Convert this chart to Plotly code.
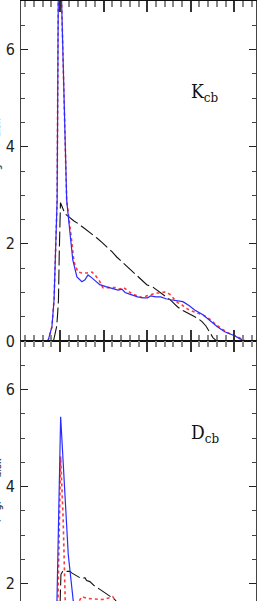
import plotly.graph_objects as go

# ---------------- data (top panel: K_cb) ----------------
k_blue_x = [-0.28, -0.19, -0.14, -0.10, -0.07, -0.03, 0.034, 0.15, 0.225, 0.29, 0.385, 0.50, 0.57, 0.64,
            0.73, 0.91, 1.05, 1.21, 1.33, 1.42, 1.49, 1.58, 1.78, 1.92, 2.01, 2.08, 2.20, 2.31, 2.43,
            2.54, 2.68, 2.82, 2.96, 3.09, 3.28, 3.46, 3.62, 3.78, 3.89, 4.01, 4.12, 4.23, 4.28]
k_blue_y = [0.0, 0.29, 0.85, 1.9, 2.9, 9.2, 7.0, 2.9, 2.23, 1.67, 1.32, 1.22, 1.26, 1.36,
            1.30, 1.16, 1.12, 1.08, 1.05, 1.07, 1.00, 0.97, 0.91, 0.89, 0.89, 0.93, 0.91, 0.91, 0.87,
            0.85, 0.83, 0.81, 0.73, 0.64, 0.54, 0.40, 0.29, 0.19, 0.15, 0.11, 0.05, 0.02, 0.0]

k_red_x = [-0.28, -0.19, -0.14, -0.10, -0.07, -0.03, 0.034, 0.149, 0.248, 0.317, 0.408, 0.50, 0.615, 0.73,
           0.80, 0.89, 0.98, 1.12, 1.26, 1.37, 1.46, 1.62, 1.76, 1.90, 1.99, 2.08, 2.19, 2.29, 2.40,
           2.47, 2.54, 2.63, 2.70, 2.79, 2.88, 3.02, 3.16, 3.27, 3.39, 3.48, 3.57, 3.71, 3.85, 3.96,
           4.08, 4.20]
k_red_y = [0.0, 0.29, 0.85, 1.9, 2.9, 9.2, 7.0, 2.9, 2.19, 1.63, 1.42, 1.40, 1.40, 1.42,
           1.36, 1.26, 1.10, 1.10, 1.10, 1.07, 1.10, 0.99, 0.93, 0.89, 0.93, 0.95, 0.99, 0.99, 1.01,
           0.99, 0.95, 0.85, 0.79, 0.75, 0.68, 0.62, 0.58, 0.54, 0.48, 0.42, 0.34, 0.25, 0.17, 0.13,
           0.09, 0.02]

k_black_x = [-0.154, -0.119, -0.08, -0.057, -0.039, -0.021, -0.005, 0.007, 0.11, 0.225, 0.317, 0.41,
             0.50, 0.615, 0.73, 0.844, 0.96, 1.07, 1.19, 1.30, 1.42, 1.55, 1.64, 1.74, 1.85, 1.99,
             2.13, 2.22, 2.31, 2.43, 2.54, 2.63, 2.70, 2.82, 2.93, 3.05, 3.16, 3.26, 3.35, 3.44,
             3.51, 3.57, 3.62]
k_black_y = [0.0, 0.13, 0.30, 0.58, 0.85, 1.8, 2.8, 2.85, 2.62, 2.53, 2.47, 2.42,
             2.36, 2.28, 2.20, 2.12, 2.03, 1.94, 1.84, 1.73, 1.63, 1.53, 1.44, 1.36, 1.26, 1.16,
             1.11, 1.05, 0.99, 0.92, 0.84, 0.76, 0.70, 0.63, 0.57, 0.52, 0.47, 0.40, 0.31, 0.16,
             0.07, 0.02, 0.0]

# ---------------- data (bottom panel: D_cb) ----------------
d_blue_x = [-0.30, -0.20, -0.12, -0.073, 0.011, 0.186, 0.30, 0.40, 0.55, 0.75, 1.0, 1.5, 2.0, 2.5,
            3.0, 3.5, 4.0, 4.3]
d_blue_y = [0.0, 0.40, 1.0, 1.67, 5.44, 2.6, 1.65, 1.35, 1.25, 1.2, 1.1, 1.0, 0.9, 0.85,
            0.7, 0.4, 0.1, 0.0]

d_red_x = [-0.30, -0.20, -0.10, -0.05, 0.011, 0.07, 0.10, 0.12, 0.30, 0.50, 0.64, 0.98, 1.14, 1.21,
           1.30, 1.6, 2.0, 2.5, 3.0, 3.5, 4.0, 4.2]
d_red_y = [0.0, 0.35, 1.0, 1.67, 4.62, 3.3, 2.2, 1.5, 1.45, 1.73, 1.69, 1.67, 1.71, 1.73,
           1.6, 1.3, 1.05, 0.95, 0.75, 0.4, 0.1, 0.0]

d_black_x = [-0.05, -0.02, -0.005, 0.018, 0.057, 0.11, 0.156, 0.225, 0.264, 0.408, 0.493, 0.569,
             0.608, 0.683, 0.798, 0.913, 0.98, 1.096, 1.18, 1.257, 1.4, 2.0, 2.5, 3.0, 3.3, 3.5, 3.6]
d_black_y = [0.0, 0.5, 1.5, 2.19, 2.25, 2.27, 2.25, 2.25, 2.22, 2.15, 2.10, 2.12,
             2.06, 2.04, 1.94, 1.88, 1.84, 1.77, 1.71, 1.67, 1.5, 1.2, 0.9, 0.55, 0.3, 0.1, 0.0]

x_major_ticks = [0, 1, 2, 3, 4]
x_minor_ticks = [-0.8, -0.6, -0.4, -0.2, 0.2, 0.4, 0.6, 0.8, 1.2, 1.4, 1.6, 1.8, 2.2, 2.4, 2.6,
                 2.8, 3.2, 3.4, 3.6, 3.8, 4.2, 4.4]
y_tick_vals = [0, 2, 4, 6]
y_tick_text = ["0", "2", "4", "6"]
panel_labels = ["K<sub>cb</sub>", "D<sub>cb</sub>"]
y_title = "P(Σ<sub>g</sub>) / Σ<sub>disk</sub>"

BLUE = "#2b2bff"
RED = "#ff3b3b"
BLACK = "#111111"

fig = go.Figure()


def add_panel(xs, ys, xa, ya):
    bx, by, rx, ry, kx, ky = xs[0], ys[0], xs[1], ys[1], xs[2], ys[2]
    fig.add_trace(go.Scatter(x=kx, y=ky, mode="lines", xaxis=xa, yaxis=ya,
                             line=dict(color=BLACK, width=1.1, dash="15px,4px")))
    fig.add_trace(go.Scatter(x=rx, y=ry, mode="lines", xaxis=xa, yaxis=ya,
                             line=dict(color=RED, width=1.6, dash="dot")))
    fig.add_trace(go.Scatter(x=bx, y=by, mode="lines", xaxis=xa, yaxis=ya,
                             line=dict(color=BLUE, width=1.2)))


add_panel([k_blue_x, k_red_x, k_black_x], [k_blue_y, k_red_y, k_black_y], "x", "y")
add_panel([d_blue_x, d_red_x, d_black_x], [d_blue_y, d_red_y, d_black_y], "x2", "y2")

tickfont = dict(family="Liberation Sans Narrow, DejaVu Sans Condensed, Arial Narrow, sans-serif",
                size=16, color="#222")

xcommon = dict(range=[-0.9, 4.5], tickvals=x_major_ticks, showticklabels=False, showgrid=False,
               zeroline=False, showline=True, linecolor="#111", ticks="inside",
               ticklen=11, tickwidth=1.5, tickcolor="#333", automargin=False,
               minor=dict(tickvals=x_minor_ticks, ticklen=6, ticks="inside", tickcolor="#888",
                          tickwidth=1.8, showgrid=False))
ycommon = dict(tickvals=y_tick_vals, ticktext=y_tick_text, showgrid=False, zeroline=False,
               showline=True, linecolor="#444", linewidth=1, ticks="inside", ticklen=7,
               tickwidth=1.3, tickcolor="#222", mirror="ticks", tickfont=tickfont,
               ticklabelstandoff=2, automargin=False,
               minor=dict(dtick=0.5, tick0=0, ticklen=4, ticks="inside", tickcolor="#444",
                          tickwidth=1.2, showgrid=False))

fig.update_layout(
    width=257, height=601,
    margin=dict(l=21, r=1, t=1, b=0, autoexpand=False),
    plot_bgcolor="white", paper_bgcolor="white",
    showlegend=False,
    xaxis=dict(**xcommon, anchor="y", domain=[0, 1], mirror="ticks", linewidth=1.3),
    yaxis=dict(**ycommon, range=[0, 7], domain=[0.4333, 1], anchor="x"),
    xaxis2=dict(**xcommon, anchor="y2", domain=[0, 1], side="top", linewidth=1.3),
    yaxis2=dict(**ycommon, range=[1.64, 7], domain=[0, 0.4333], anchor="x2"),
)

labfont = dict(family="DejaVu Serif Condensed, Liberation Serif, serif", size=19, color="#111")
fig.add_annotation(text=panel_labels[0], xref="paper", yref="paper", x=0.715, y=0.871,
                   xanchor="left", yanchor="top", showarrow=False, font=labfont)
fig.add_annotation(text=panel_labels[1], xref="paper", yref="paper", x=0.715, y=0.303,
                   xanchor="left", yanchor="top", showarrow=False, font=labfont)

titlefont = dict(family="Liberation Sans Narrow, DejaVu Sans Condensed, sans-serif", size=15,
                 color="#222")
fig.add_annotation(text=y_title, xref="paper", yref="paper", x=0, y=0.8067, xshift=-17,
                   xanchor="right", yanchor="top", textangle=-90, showarrow=False, font=titlefont)
fig.add_annotation(text=y_title, xref="paper", yref="paper", x=0, y=0.24, xshift=-17,
                   xanchor="right", yanchor="top", textangle=-90, showarrow=False, font=titlefont)

fig.write_html("out.html", config={"displayModeBar": False},
               post_script="document.body.style.margin='0';document.body.style.overflow='hidden';")
